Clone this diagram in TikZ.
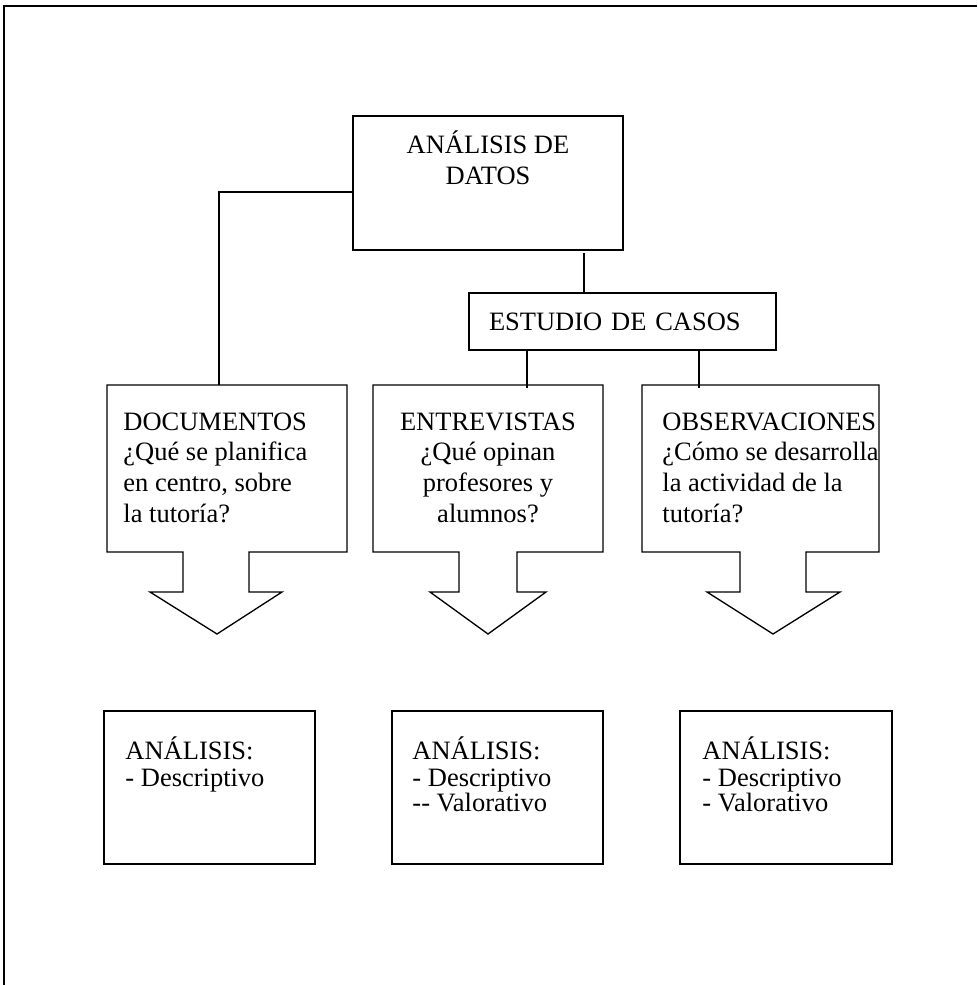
\documentclass[tikz,border=0pt]{standalone}
\usepackage{fontspec}
\setmainfont{Liberation Serif}
\newcommand{\px}{0.453pt}
\tikzset{
  marco/.style={draw,line width=0.6pt,rectangle,inner sep=0pt,outer sep=0pt,anchor=north west},
  hueco/.style={marco,draw=none},
  texto/.style={inner sep=0pt,font=\fontsize{12}{14}\selectfont},
  textobajo/.style={inner sep=0pt,font=\fontsize{12}{11.3}\selectfont,align=left,anchor=north west},
  linea/.style={line width=0.6pt}
}
\begin{document}
\begin{tikzpicture}[x=\px,y=-\px]
\useasboundingbox (0,0) rectangle (977,985);
\draw[line width=1pt] (4,985) -- (4,6) -- (977,6);
% nivel superior
\node[marco,minimum width=270*\px,minimum height=134*\px] (datos) at (353,116) {};
\node[texto,align=center,anchor=north] (datosT) at ([yshift=-14*\px]datos.north) {\strut ANÁLISIS DE\\DATOS};
\node[marco,texto,text width=267*\px,inner xsep=20*\px,minimum height=57*\px,align=left] (estudio) at (469,293) {ESTUDIO DE CASOS};
% cajas con flecha
\node[hueco,minimum width=240*\px,minimum height=167*\px] (doc) at (107,385) {};
\node[hueco,minimum width=230*\px,minimum height=167*\px] (ent) at (373,385) {};
\node[hueco,minimum width=237*\px,minimum height=167*\px] (obs) at (642,385) {};
\draw[linea] (doc.north west) -- (doc.north east) -- (doc.south east) -- (249,552) -- (249,592) -- (282,592)
  -- (217,634) -- (150,592) -- (183,592) -- (183,552) -- (doc.south west) -- cycle;
\draw[linea] (ent.north west) -- (ent.north east) -- (ent.south east) -- (517,552) -- (517,592) -- (546,592)
  -- (488,634) -- (430,592) -- (459,592) -- (459,552) -- (ent.south west) -- cycle;
\draw[linea] (obs.north west) -- (obs.north east) -- (obs.south east) -- (806,552) -- (806,592) -- (840,592)
  -- (773,634) -- (707,592) -- (740,592) -- (740,552) -- (obs.south west) -- cycle;
\node[texto,align=left,anchor=north west] (docT) at (123,408) {\strut DOCUMENTOS\\¿Qué se planifica\\en centro, sobre\\la tutoría?};
\node[texto,align=center,anchor=north] (entT) at (488,408) {\strut ENTREVISTAS\\¿Qué opinan\\profesores y\\alumnos?};
\node[texto,align=left,anchor=north west] (obsT) at (662,408) {\strut OBSERVACIONES\\¿Cómo se desarrolla\\la actividad de la\\tutoría?};
% cajas de analisis
\node[marco,minimum width=211*\px,minimum height=153*\px] (an1) at (104,711) {};
\node[marco,minimum width=211*\px,minimum height=153*\px] (an2) at (392,711) {};
\node[marco,minimum width=212*\px,minimum height=153*\px] (an3) at (680,711) {};
\node[textobajo] (an1T) at (125,736) {\strut ANÁLISIS:\\- Descriptivo};
\node[textobajo] (an2T) at (412,736) {\strut ANÁLISIS:\\- Descriptivo\\-{}- Valorativo};
\node[textobajo] (an3T) at (702,736) {\strut ANÁLISIS:\\- Descriptivo\\- Valorativo};
% conectores
\draw[linea] ([yshift=-9*\px]datos.west) -| ([xshift=-8*\px]doc.north);
\draw[linea] ([xshift=96*\px,yshift=-3*\px]datos.south) -- ([xshift=-38.5*\px]estudio.north);
\draw[linea] ([xshift=-95.5*\px]estudio.south) -- ([xshift=39*\px,yshift=-3*\px]ent.north);
\draw[linea] ([xshift=76.5*\px]estudio.south) -- ([xshift=-61.5*\px,yshift=-3*\px]obs.north);
\end{tikzpicture}
\end{document}
